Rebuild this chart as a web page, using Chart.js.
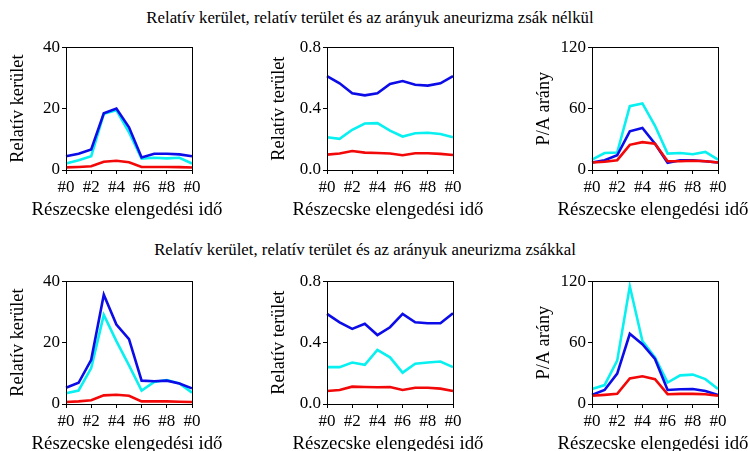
<!DOCTYPE html>
<html>
<head>
<meta charset="utf-8">
<script src="https://cdn.jsdelivr.net/npm/chart.js@4/dist/chart.umd.min.js"></script>
<style>
  body { margin: 0; background: #fff; }
  #lap { position: relative; width: 748px; height: 451px; overflow: hidden; font-family: 'Liberation Serif', serif; }
  .cim { position: absolute; font-size: 16.8px; white-space: nowrap; transform: translate(-50%, -50%); color: #000; }
  canvas { position: absolute; }
</style>
</head>
<body>
<div id="lap">
  <div class="cim" style="left:370px; top:18px;">Relatív kerület, relatív terület és az arányuk aneurizma zsák nélkül</div>
  <div class="cim" style="left:365px; top:250px;">Relatív kerület, relatív terület és az arányuk aneurizma zsákkal</div>
</div>
<script>
// x tengely: részecske elengedési idő
const idoCimkek = ['#0', '#1', '#2', '#3', '#4', '#5', '#6', '#7', '#8', '#9', '#0'];
const xCim = 'Részecske elengedési idő';

// zsák nélkül
const keruletNelkulKek   = [4.5, 5.3, 6.7, 18.5, 20.0, 13.9, 4.1, 5.3, 5.3, 5.1, 4.5];
const keruletNelkulCian  = [2.1, 3.2, 4.5, 18.3, 19.5, 12.3, 3.7, 4.0, 3.8, 4.0, 2.1];
const keruletNelkulPiros = [0.85, 1.0, 1.2, 2.7, 3.0, 2.5, 1.0, 1.0, 1.0, 0.95, 0.8];

const teruletNelkulKek   = [0.612, 0.565, 0.50, 0.486, 0.50, 0.561, 0.58, 0.555, 0.55, 0.565, 0.612];
const teruletNelkulCian  = [0.213, 0.203, 0.262, 0.303, 0.305, 0.256, 0.218, 0.239, 0.243, 0.235, 0.213];
const teruletNelkulPiros = [0.10, 0.107, 0.124, 0.113, 0.111, 0.107, 0.096, 0.109, 0.109, 0.105, 0.098];

const aranyNelkulKek   = [7.4, 9.6, 14.4, 37.8, 41.0, 25.6, 7.0, 9.6, 9.6, 8.6, 7.4];
const aranyNelkulCian  = [10.2, 16.6, 17.0, 62.4, 65.0, 43.2, 16.0, 16.6, 15.4, 17.6, 10.2];
const aranyNelkulPiros = [7.4, 8.0, 9.6, 24.6, 27.2, 25.6, 8.6, 8.6, 9.0, 8.6, 7.4];

// zsákkal
const keruletZsakKek   = [5.3, 6.9, 14.4, 35.6, 25.9, 21.1, 7.6, 7.4, 7.6, 6.7, 5.1];
const keruletZsakCian  = [3.5, 4.4, 11.7, 29.0, 20.5, 12.6, 4.4, 7.2, 7.8, 6.7, 3.7];
const keruletZsakPiros = [0.65, 0.85, 1.2, 2.8, 3.0, 2.7, 0.85, 0.85, 0.85, 0.75, 0.65];

const teruletZsakKek   = [0.587, 0.532, 0.489, 0.523, 0.449, 0.50, 0.587, 0.532, 0.526, 0.526, 0.591];
const teruletZsakCian  = [0.24, 0.24, 0.27, 0.255, 0.353, 0.304, 0.204, 0.262, 0.27, 0.277, 0.24];
const teruletZsakPiros = [0.085, 0.091, 0.113, 0.111, 0.109, 0.111, 0.091, 0.106, 0.106, 0.10, 0.085];

const aranyZsakKek   = [8.9, 13.7, 29.7, 68.6, 58.4, 44.0, 13.7, 14.4, 14.7, 12.8, 8.9];
const aranyZsakCian  = [14.7, 18.5, 42.4, 115.0, 61.6, 45.6, 21.0, 28.0, 28.7, 24.3, 14.7];
const aranyZsakPiros = [8.0, 8.9, 9.9, 24.9, 27.1, 24.3, 9.6, 9.9, 9.9, 9.6, 8.0];

// y tengely beosztások
const keruletTicks = [0, 20, 40];
const teruletTicks = [0, 0.4, 0.8];
const aranyTicks = [0, 60, 120];

const KEK = 'rgb(12,12,232)';
const CIAN = 'rgb(8,240,240)';
const PIROS = 'rgb(242,8,8)';
const BETU = "'Liberation Serif', serif";

// keret a rajzterület körül + x tengely felirata (a Chart.js címe összenyomná)
const keret = {
  id: 'keret',
  afterDraw(chart) {
    const { ctx, chartArea: a } = chart;
    ctx.save();
    ctx.strokeStyle = '#000';
    ctx.lineWidth = 1;
    ctx.strokeRect(Math.round(a.left) + 0.5, Math.round(a.top) + 0.5,
      Math.round(a.right - a.left), Math.round(a.bottom - a.top));
    ctx.fillStyle = '#000';
    ctx.font = "18.8px " + BETU;
    ctx.textAlign = 'center';
    ctx.textBaseline = 'middle';
    ctx.fillText(xCim, (a.left + a.right) / 2 - 2, a.bottom + 40);
    ctx.restore();
  }
};

const BAL = 66, FENT = 10, JOBB = 50, LENT = 52, SZ = 126, M = 125;

function panel(plotX, plotY, kek, cian, piros, ticks, decimals, cim) {
  const canvas = document.createElement('canvas');
  canvas.width = BAL + SZ + JOBB;
  canvas.height = FENT + M + LENT;
  canvas.style.left = (plotX - BAL) + 'px';
  canvas.style.top = (plotY - FENT) + 'px';
  document.getElementById('lap').appendChild(canvas);

  const vonal = (data, color) => ({
    data, borderColor: color, backgroundColor: color,
    borderWidth: 2.6, pointRadius: 0, tension: 0, fill: false
  });

  new Chart(canvas.getContext('2d'), {
    type: 'line',
    data: {
      labels: idoCimkek,
      datasets: [vonal(piros, PIROS), vonal(kek, KEK), vonal(cian, CIAN)]
    },
    options: {
      responsive: false,
      animation: false,
      devicePixelRatio: 1,
      layout: { padding: { top: FENT, right: JOBB, left: 0, bottom: 0 } },
      plugins: { legend: { display: false }, tooltip: { enabled: false } },
      scales: {
        x: {
          offset: false,
          border: { display: false },
          grid: {
            drawOnChartArea: false, tickLength: 4,
            tickColor: c => (c.index % 2 === 0 ? '#000' : 'rgba(0,0,0,0)')
          },
          ticks: {
            autoSkip: false, maxRotation: 0, padding: 3, color: '#000',
            font: { family: BETU, size: 17 },
            callback: (v, i) => (i % 2 === 0 ? idoCimkek[i] : '')
          },
          afterFit: s => { s.height = LENT; }
        },
        y: {
          min: ticks[0], max: ticks[ticks.length - 1],
          border: { display: false },
          grid: { drawOnChartArea: false, tickLength: 4, tickColor: '#000' },
          afterBuildTicks: s => { s.ticks = ticks.map(v => ({ value: v })); },
          ticks: {
            padding: 2, color: '#000',
            font: { family: BETU, size: 17 },
            callback: v => v.toFixed(decimals)
          },
          title: {
            display: true, text: cim, color: '#000',
            font: { family: BETU, size: 18.3 }, padding: { top: 7, bottom: 0 }
          },
          afterFit: s => { s.width = BAL; }
        }
      }
    },
    plugins: [keret]
  });
}

const oszlopX = [66, 327, 592];
const sorY = [45, 279];

panel(oszlopX[0], sorY[0], keruletNelkulKek, keruletNelkulCian, keruletNelkulPiros, keruletTicks, 0, 'Relatív kerület');
panel(oszlopX[1], sorY[0], teruletNelkulKek, teruletNelkulCian, teruletNelkulPiros, teruletTicks, 1, 'Relatív terület');
panel(oszlopX[2], sorY[0], aranyNelkulKek, aranyNelkulCian, aranyNelkulPiros, aranyTicks, 0, 'P/A arány');

panel(oszlopX[0], sorY[1], keruletZsakKek, keruletZsakCian, keruletZsakPiros, keruletTicks, 0, 'Relatív kerület');
panel(oszlopX[1], sorY[1], teruletZsakKek, teruletZsakCian, teruletZsakPiros, teruletTicks, 1, 'Relatív terület');
panel(oszlopX[2], sorY[1], aranyZsakKek, aranyZsakCian, aranyZsakPiros, aranyTicks, 0, 'P/A arány');
</script>
</body>
</html>
